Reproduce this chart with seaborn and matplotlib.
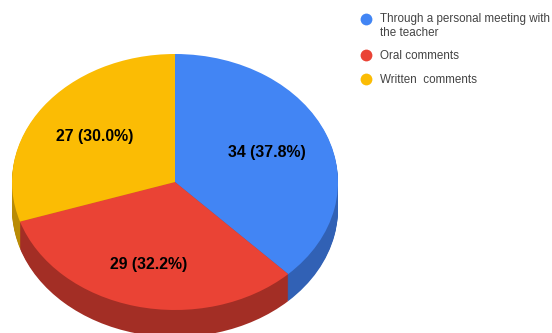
import matplotlib
matplotlib.use("Agg")
import matplotlib.pyplot as plt
from matplotlib.lines import Line2D
import seaborn as sns

categories = ["Through a personal meeting with\nthe teacher", "Oral comments", "Written  comments"]
values = [34, 29, 27]
top_colors = ["#4285F4", "#EA4335", "#FBBC04"]
side_colors = ["#3161B5", "#A32E25", "#B98B05"]

sns.set_theme(style="white")
plt.rcParams["font.family"] = ["Liberation Sans", "DejaVu Sans"]

WIDTH, HEIGHT = 552, 333
CX, CY = 175, 182      # pie centre in pixels from the top-left
RX, RY = 163, 128      # pie radii in pixels
DEPTH = 27             # extruded rim height in pixels

fig = plt.figure(figsize=(WIDTH / 100, HEIGHT / 100), dpi=100)
ax = fig.add_axes([0, 0, 1, 1])


def label(pct):
    count = round(pct * sum(values) / 100)
    return f"{count} ({pct:.1f}%)"


# Stacked dark pies form the rim below the top face
for step in range(DEPTH, 0, -1):
    ax.pie(values, colors=side_colors, startangle=90, counterclock=False,
           center=(0, -step / RY), wedgeprops={"linewidth": 0})

wedges, _, autotexts = ax.pie(
    values, colors=top_colors, startangle=90, counterclock=False,
    autopct=label, pctdistance=0.61, wedgeprops={"linewidth": 0},
    textprops={"fontsize": 11.4, "fontweight": "bold", "color": "#000000"},
)

# The lower label sits a little nearer the rim
x, y = autotexts[1].get_position()
autotexts[1].set_position((x - 2 / RX, y - 7 / RY))

ax.set_aspect("auto")
ax.set_xlim(-CX / RX, (WIDTH - CX) / RX)
ax.set_ylim(-(HEIGHT - CY) / RY, CY / RY)
ax.axis("off")

handles = [Line2D([], [], linestyle="none", marker="o", markersize=8.5,
                  markerfacecolor=c, markeredgewidth=0) for c in top_colors]
legend = ax.legend(handles, categories, loc="upper left", bbox_to_anchor=(357 / WIDTH, 1 - 13 / HEIGHT),
                   frameon=False, fontsize=8.35, labelcolor="#444444", handletextpad=0.5,
                   labelspacing=1.0, borderpad=0, borderaxespad=0, handlelength=1.5)
for text in legend.get_texts():
    text.set_linespacing(1.2)

# The wrapped entry keeps its marker level with its first line
first = legend.legend_handles[0]
first.set_ydata([y_ + 5.5 for y_ in first.get_ydata()])

fig.savefig("out.png", dpi=100)
